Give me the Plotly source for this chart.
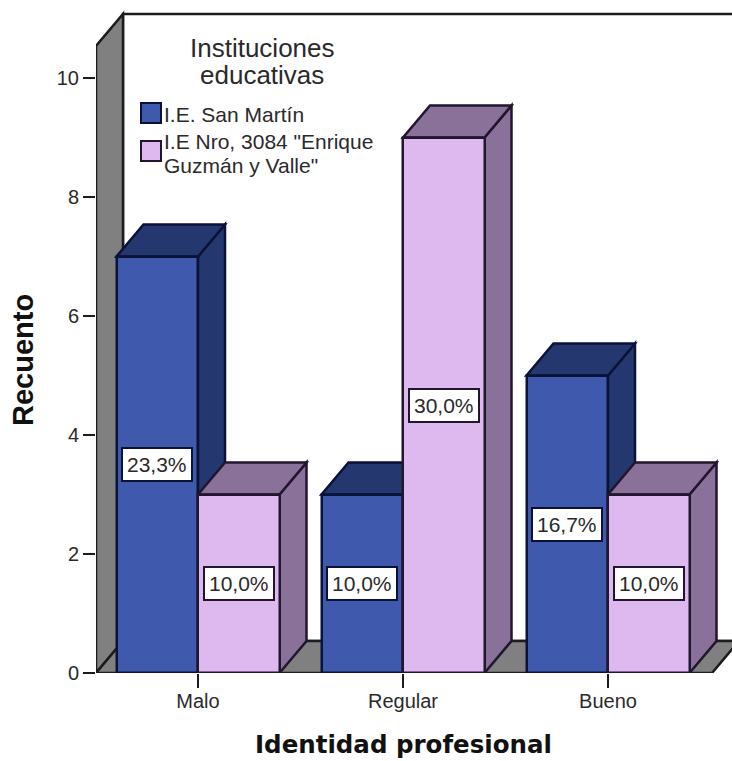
import plotly.graph_objects as go

categories = ["Malo", "Regular", "Bueno"]
legend_title = ["Instituciones", "educativas"]
legend_lines = ["I.E. San Martín", 'I.E Nro, 3084 "Enrique', "Guzmán y Valle\""]
san_martin = [7, 3, 5]
enrique = [3, 9, 3]
pct_san_martin = ["23,3%", "10,0%", "16,7%"]
pct_enrique = ["10,0%", "30,0%", "10,0%"]
y_ticks = [0, 2, 4, 6, 8, 10]

W, H = 732, 761
L, T, B = 96, 10, 88
PX_X = 205.0
PX_Y = 59.5
DX = 27 / PX_X
DY = 32 / PX_Y
BW = 81.5 / PX_X
XMIN = -(198 - L) / PX_X
XMAX = (W - 198) / PX_X
YMAX = (H - B - T) / PX_Y
WALL_H = (673 - 46) / PX_Y
FLOOR_R = (712 - 198) / PX_X

BLUE, BLUE_D, BLUE_L = "#3F59AC", "#25376F", "#0B1238"
PINK, PINK_D, PINK_L = "#DDB9EF", "#8A7199", "#22152E"
GRAY, DARK = "#808080", "#1c1c1c"
TEXT = "#2a2a2a"
SANS = "Liberation Sans"


def poly(points, fill, line, width=2.5):
    path = "M" + "L".join(f"{x},{y}" for x, y in points) + "Z"
    return dict(type="path", path=path, xref="x", yref="y", fillcolor=fill,
                line=dict(color=line, width=width), layer="below")


def paper_y(px):
    return 1 - (px - T) / (H - T - B)


shapes = [
    poly([(XMIN + DX, DY), (XMAX + 1, DY), (XMAX + 1, WALL_H + DY), (XMIN + DX, WALL_H + DY)], "white", DARK),
    poly([(XMIN, 0), (XMIN + DX, DY), (XMIN + DX, WALL_H + DY), (XMIN, WALL_H)], GRAY, DARK),
    poly([(XMIN, 0), (XMIN + DX, DY), (FLOOR_R + DX, DY), (FLOOR_R, 0)], GRAY, DARK),
]

for values, x_off, dark, edge in [(san_martin, -BW, BLUE_D, BLUE_L), (enrique, 0, PINK_D, PINK_L)]:
    for i, v in enumerate(values):
        x0 = i + x_off
        x1 = x0 + BW
        shapes.append(poly([(x1, 0), (x1 + DX, DY), (x1 + DX, v + DY), (x1, v)], dark, edge))
        shapes.append(poly([(x0, v), (x1, v), (x1 + DX, v + DY), (x0 + DX, v + DY)], dark, edge))

# Legend swatches
for (x0, y0, x1, y1), fill, edge in [((141, 103, 161, 123), BLUE, BLUE_L), ((141, 141, 161, 161), PINK, PINK_L)]:
    shapes.append(dict(type="rect", xref="paper", yref="paper", x0=(x0 - L) / (W - L), x1=(x1 - L) / (W - L),
                       y0=paper_y(y1), y1=paper_y(y0), fillcolor=fill, line=dict(color=edge, width=2), layer="above"))

fig = go.Figure()
positions = list(range(len(categories)))
fig.add_bar(x=positions, y=san_martin, name="I.E. San Martín", width=BW, offset=-BW,
            marker=dict(color=BLUE, line=dict(color=BLUE_L, width=2.5)))
fig.add_bar(x=positions, y=enrique, name='I.E Nro, 3084 "Enrique Guzmán y Valle"', width=BW, offset=0,
            marker=dict(color=PINK, line=dict(color=PINK_L, width=2.5)))

annotations = []
for values, labels, x_off, edge in [(san_martin, pct_san_martin, -BW / 2, BLUE_L), (enrique, pct_enrique, BW / 2, PINK_L)]:
    for i, (v, t) in enumerate(zip(values, labels)):
        annotations.append(dict(x=i + x_off, y=v / 2, text=t, showarrow=False,
                                font=dict(family=SANS, size=21, color=TEXT),
                                bgcolor="white", bordercolor=edge, borderwidth=2, borderpad=4))


def text_at(px, py, text, size, anchor="center", family=SANS, color=TEXT, angle=0):
    return dict(xref="paper", yref="paper", x=(px - L) / (W - L), y=paper_y(py), text=text, showarrow=False,
                xanchor=anchor, yanchor="middle", textangle=angle, borderpad=0,
                font=dict(family=family, size=size, color=color))


annotations += [
    text_at(262, 48, legend_title[0], 26),
    text_at(262, 75, legend_title[1], 26),
    text_at(163, 114, legend_lines[0], 21, "left"),
    text_at(163, 142, legend_lines[1], 21, "left"),
    text_at(163, 165, legend_lines[2], 21, "left"),
    text_at(23, 360, "<b>Recuento</b>", 29, color="#111", angle=-90),
    text_at(403, 744, "<b>Identidad profesional</b>", 24.5, family="DejaVu Sans", color="#111"),
]

fig.update_layout(
    width=W, height=H, margin=dict(l=L, r=0, t=T, b=B),
    paper_bgcolor="white", plot_bgcolor="white", shapes=shapes, annotations=annotations,
    barmode="overlay", bargap=0, showlegend=False,
    font=dict(family=SANS, color=TEXT),
    xaxis=dict(range=[XMIN, XMAX], tickmode="array", tickvals=positions, ticktext=categories,
               ticks="outside", ticklen=14, tickwidth=2, tickcolor=DARK, showgrid=False, zeroline=False,
               showline=False, tickfont=dict(size=20), automargin=False, ticklabelstandoff=-4),
    yaxis=dict(range=[0, YMAX], tickmode="array", tickvals=y_ticks,
               ticks="outside", ticklen=12, tickwidth=2, tickcolor=DARK, showgrid=False, zeroline=False,
               showline=False, tickfont=dict(size=20), automargin=False),
)
fig.write_html("out.html", post_script="document.body.style.margin='0';", config={"displayModeBar": False})
